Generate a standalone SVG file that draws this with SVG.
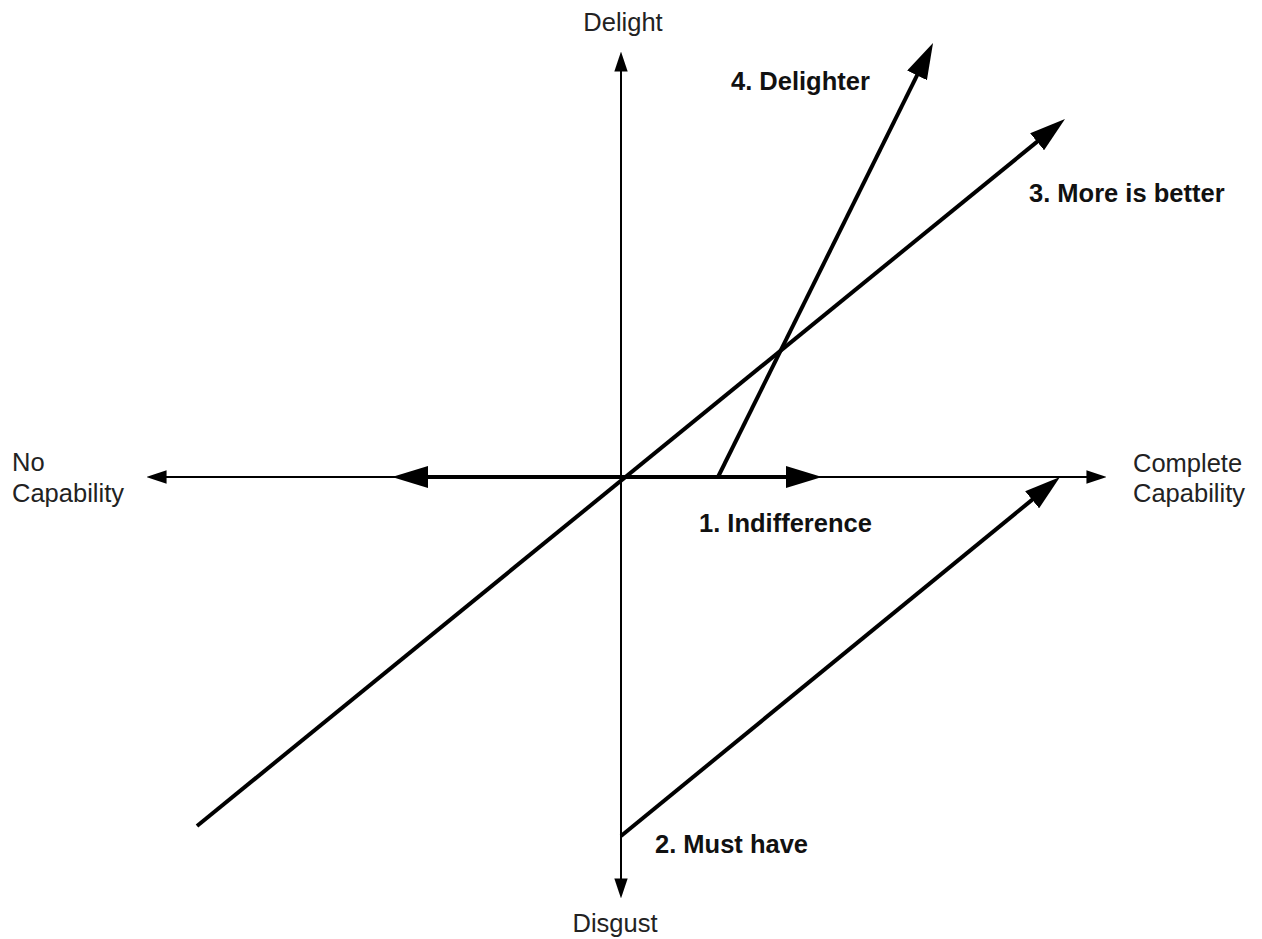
<svg xmlns="http://www.w3.org/2000/svg" width="1262" height="939" viewBox="0 0 1262 939">
<style>
.axis{stroke:#000;stroke-width:2;fill:none}
.curve{stroke:#000;stroke-width:4;fill:none}
.ax{font-family:"Liberation Sans",Arial,sans-serif;font-size:25.5px;fill:#222}
.lb{font-family:"Liberation Sans",Arial,sans-serif;font-size:25.5px;font-weight:bold;fill:#111}
</style>
<defs>
<marker id="sm" markerUnits="userSpaceOnUse" markerWidth="20" markerHeight="14" refX="14" refY="6" orient="auto-start-reverse" viewBox="0 0 18 12">
<path d="M0,0 L18,6 L0,12 z" fill="#000"/>
</marker>
<marker id="big" markerUnits="userSpaceOnUse" markerWidth="36" markerHeight="22" refX="24" refY="11" orient="auto-start-reverse" viewBox="0 0 36 22">
<path d="M0,0 L36,11 L0,22 z" fill="#000"/>
</marker>
</defs>
<g id="connectors">
<line id="y-axis" class="axis" x1="621" y1="56" x2="621" y2="894" marker-start="url(#sm)" marker-end="url(#sm)"/>
<line id="x-axis" class="axis" x1="151" y1="477" x2="1102" y2="477" marker-start="url(#sm)" marker-end="url(#sm)"/>
<line id="indifference" class="curve" x1="404" y1="477" x2="810" y2="477" marker-start="url(#big)" marker-end="url(#big)"/>
<line id="more-is-better" class="curve" x1="197" y1="826" x2="1055.7" y2="126.6" marker-end="url(#big)"/>
<line id="delighter" class="curve" x1="718" y1="477" x2="927.7" y2="53.8" marker-end="url(#big)"/>
<line id="must-have" class="curve" x1="621" y1="836" x2="1050.7" y2="484.6" marker-end="url(#big)"/>
</g>
<g id="delight"><text class="ax" x="623" y="31" text-anchor="middle">Delight</text></g>
<g id="disgust"><text class="ax" x="615" y="932" text-anchor="middle">Disgust</text></g>
<g id="no-capability"><text class="ax" x="12" y="471">No</text><text class="ax" x="12" y="502">Capability</text></g>
<g id="complete-capability"><text class="ax" x="1133" y="472">Complete</text><text class="ax" x="1133" y="502">Capability</text></g>
<g id="label-4"><text class="lb" x="731" y="90">4. Delighter</text></g>
<g id="label-3"><text class="lb" x="1029" y="202">3. More is better</text></g>
<g id="label-1"><text class="lb" x="699" y="532">1. Indifference</text></g>
<g id="label-2"><text class="lb" x="655" y="853">2. Must have</text></g>
</svg>
